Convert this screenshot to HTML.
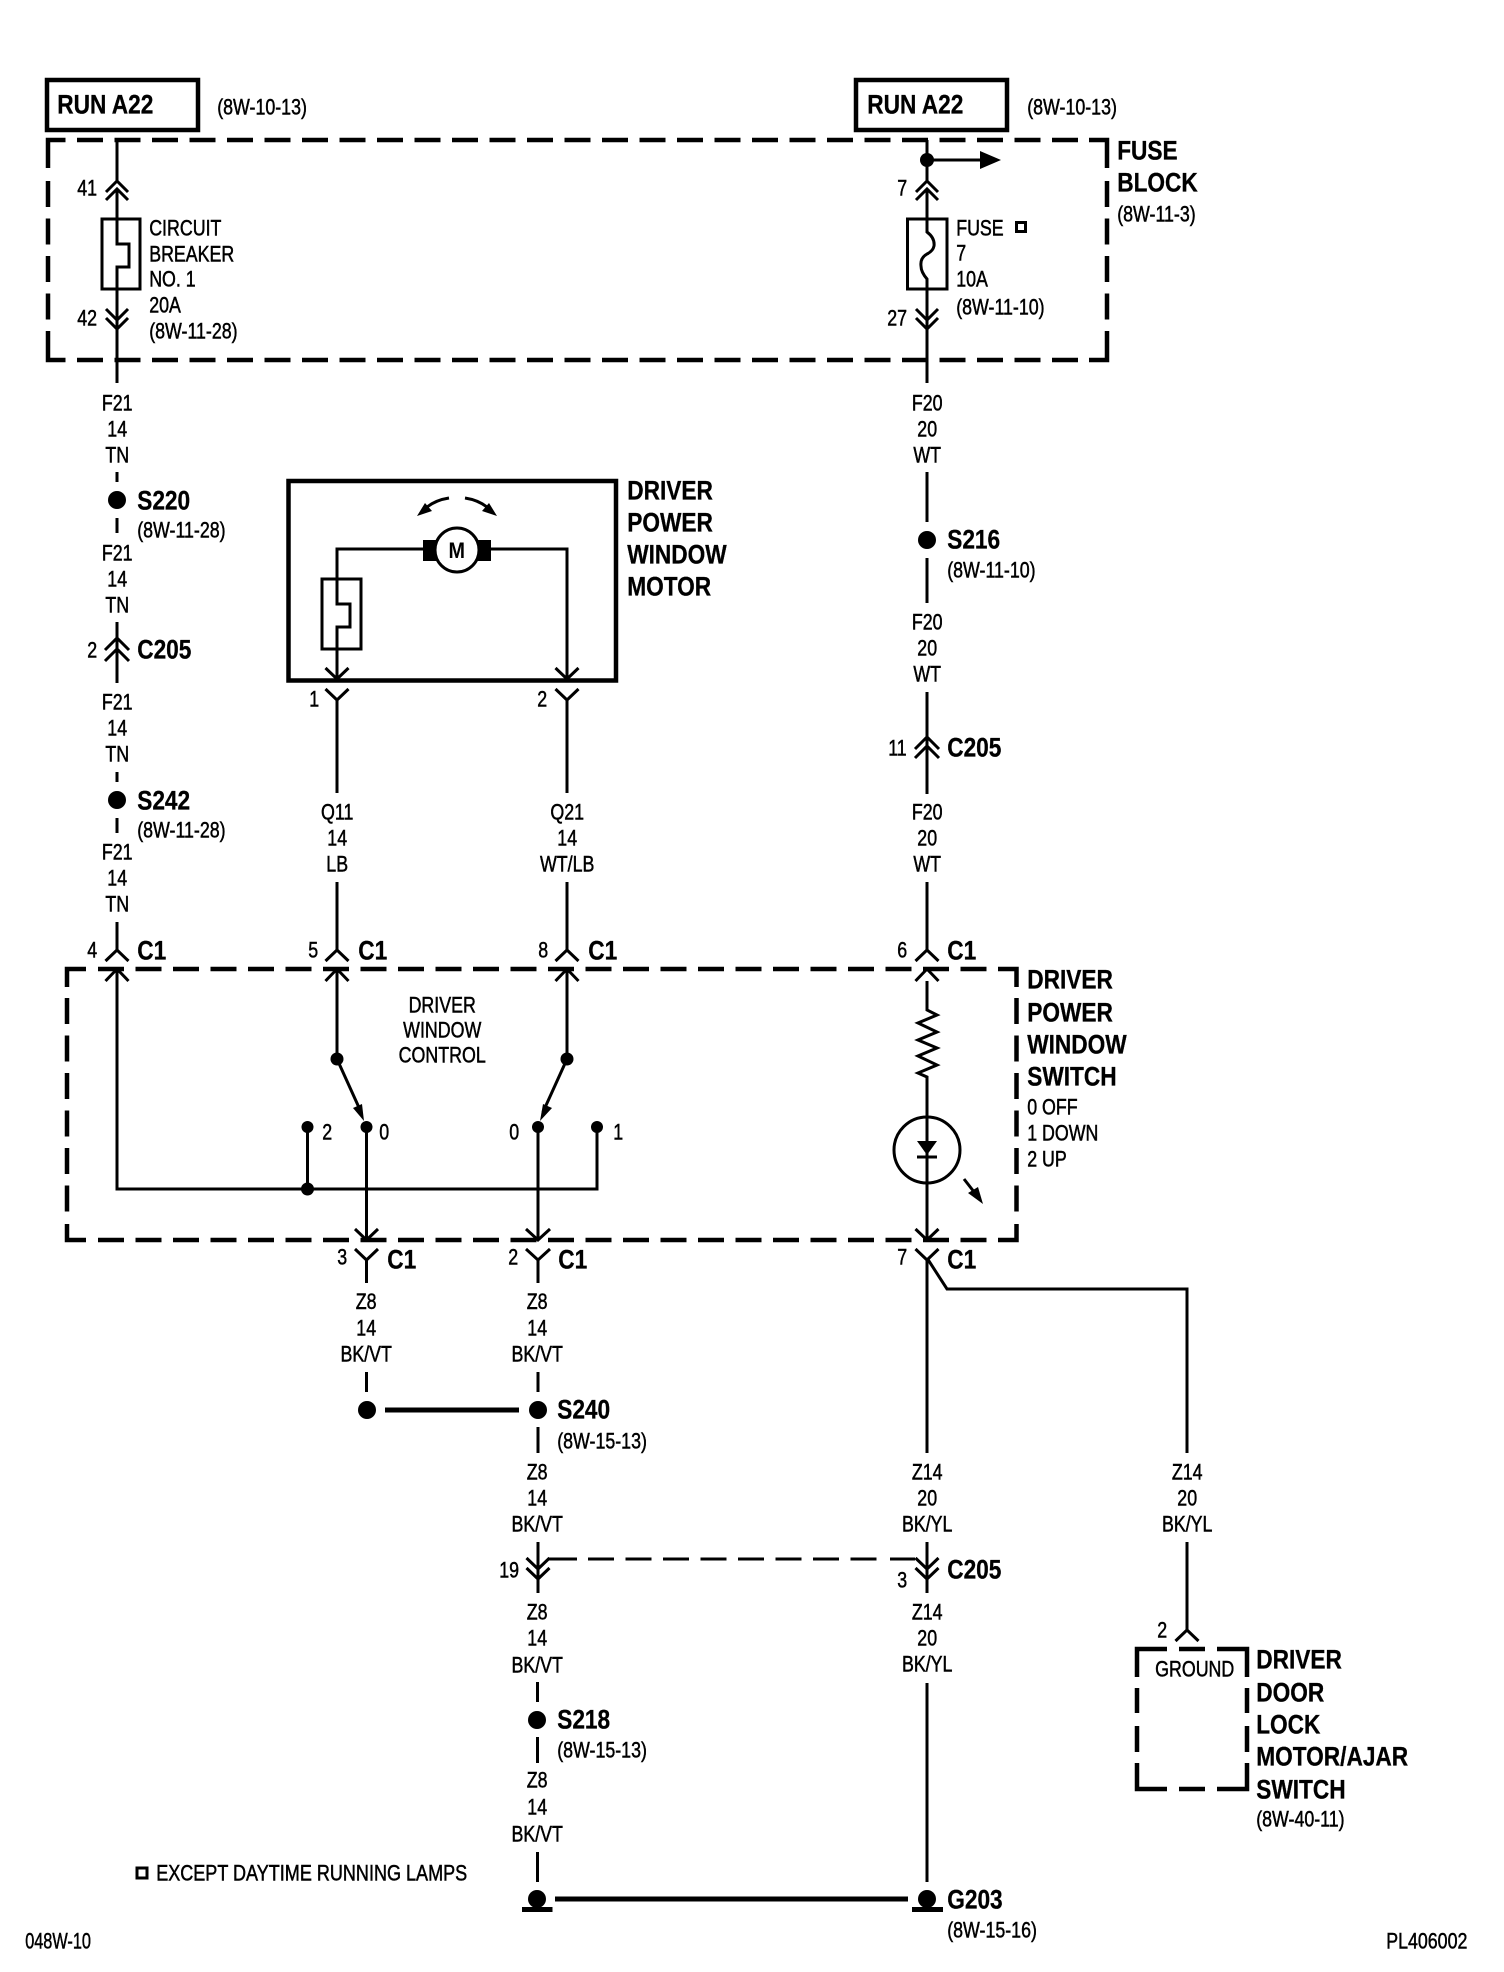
<!DOCTYPE html>
<html><head><meta charset="utf-8"><title>Wiring diagram</title>
<style>
html,body{margin:0;padding:0;background:#fff}
svg{display:block}
text{font-family:"Liberation Sans",sans-serif;fill:#000;translate:-.8px -.6px}
.s{font-size:22px;stroke:#000;stroke-width:.5}
.b{font-size:27px;font-weight:bold;stroke:#000;stroke-width:.3}
.m{text-anchor:middle}
.w{fill:none;stroke:#000;stroke-width:3}
.d{fill:none;stroke:#000;stroke-width:4.5}
</style></head><body>
<svg width="1504" height="1972" viewBox="0 0 1504 1972" xmlns="http://www.w3.org/2000/svg">
<rect width="1504" height="1972" fill="#fff"/>
<!-- top boxes -->
<rect x="47" y="80" width="151" height="50" fill="none" stroke="#000" stroke-width="4.5"/>
<rect x="856" y="80" width="151" height="50" fill="none" stroke="#000" stroke-width="4.5"/>
<text class="b" transform="translate(58 114) scale(.84 1)">RUN A22</text>
<text class="b" transform="translate(868 114) scale(.84 1)">RUN A22</text>
<text class="s" transform="translate(218 115) scale(.81 1)">(8W-10-13)</text>
<text class="s" transform="translate(1028 115) scale(.81 1)">(8W-10-13)</text>
<!-- fuse block dashed -->
<path class="d" d="M48 168V140H65.5"/>
<path class="d" d="M1089 140H1107V168"/>
<path class="d" d="M48 331V360H65.5"/>
<path class="d" d="M1089 360H1107V331"/>
<path class="d" stroke-dasharray="26 11.5" d="M77 140H1080"/>
<path class="d" stroke-dasharray="26 11.5" d="M77 360H1080"/>
<path class="d" stroke-dasharray="26 11.5" d="M48 181V322"/>
<path class="d" stroke-dasharray="26 11.5" d="M1107 181V322"/>
<!-- left fuse column -->
<path class="w" d="M117 140V181M106 192L117 181L128 192M106 200L117 189L128 200M117 189V219"/>
<rect class="w" x="102" y="219" width="38" height="70"/>
<path class="w" d="M117 219V244H129V267H117V329M106 309L117 320L128 309M106 318L117 329L128 318M117 329V383"/>
<text class="s" transform="translate(78 196) scale(.81 1)">41</text>
<text class="s" transform="translate(78 326) scale(.81 1)">42</text>
<text class="s" transform="translate(150 236) scale(.81 1)">CIRCUIT</text>
<text class="s" transform="translate(150 262) scale(.81 1)">BREAKER</text>
<text class="s" transform="translate(150 287) scale(.81 1)">NO. 1</text>
<text class="s" transform="translate(150 313) scale(.81 1)">20A</text>
<text class="s" transform="translate(150 339) scale(.81 1)">(8W-11-28)</text>
<!-- right fuse column -->
<circle cx="927" cy="160" r="7"/>
<path class="w" d="M927 140V181M927 160H982M916 192L927 181L938 192M916 200L927 189L938 200M927 189V219"/>
<path d="M980 151L1001 160L980 169Z"/>
<rect class="w" x="907.5" y="219" width="39.5" height="70"/>
<path class="w" d="M927 219V232Q935 238 934 246Q933 251 927 254Q920 258 921 266Q921 272 927 279V329M916 309L927 320L938 309M916 318L927 329L938 318M927 329V383"/>
<text class="s" transform="translate(898 196) scale(.81 1)">7</text>
<text class="s" transform="translate(888 326) scale(.81 1)">27</text>
<text class="s" transform="translate(957 236) scale(.81 1)">FUSE</text>
<rect class="w" x="1016.5" y="222.5" width="9" height="9" stroke-width="2.5"/>
<text class="s" transform="translate(957 261) scale(.81 1)">7</text>
<text class="s" transform="translate(957 287) scale(.81 1)">10A</text>
<text class="s" transform="translate(957 315) scale(.81 1)">(8W-11-10)</text>
<text class="b" transform="translate(1118 160) scale(.84 1)">FUSE</text>
<text class="b" transform="translate(1118 192) scale(.84 1)">BLOCK</text>
<text class="s" transform="translate(1118 222) scale(.81 1)">(8W-11-3)</text>
<!-- F21 column -->
<text class="s m" transform="translate(118 411) scale(.81 1)">F21</text>
<text class="s m" transform="translate(118 437) scale(.81 1)">14</text>
<text class="s m" transform="translate(118 463) scale(.81 1)">TN</text>
<path class="w" d="M117 472V482M117 518V533"/>
<circle cx="117" cy="500" r="9"/>
<text class="b" transform="translate(138 510) scale(.84 1)">S220</text>
<text class="s" transform="translate(138 538) scale(.81 1)">(8W-11-28)</text>
<text class="s m" transform="translate(118 561) scale(.81 1)">F21</text>
<text class="s m" transform="translate(118 587) scale(.81 1)">14</text>
<text class="s m" transform="translate(118 613) scale(.81 1)">TN</text>
<path class="w" d="M117 622V683M105 650L117 638L129 650M105 661L117 649L129 661"/>
<text class="s" transform="translate(88 658) scale(.81 1)">2</text>
<text class="b" transform="translate(138 659) scale(.84 1)">C205</text>
<text class="s m" transform="translate(118 710) scale(.81 1)">F21</text>
<text class="s m" transform="translate(118 736) scale(.81 1)">14</text>
<text class="s m" transform="translate(118 762) scale(.81 1)">TN</text>
<path class="w" d="M117 772V782M117 818V833"/>
<circle cx="117" cy="800" r="9"/>
<text class="b" transform="translate(138 810) scale(.84 1)">S242</text>
<text class="s" transform="translate(138 838) scale(.81 1)">(8W-11-28)</text>
<text class="s m" transform="translate(118 860) scale(.81 1)">F21</text>
<text class="s m" transform="translate(118 886) scale(.81 1)">14</text>
<text class="s m" transform="translate(118 912) scale(.81 1)">TN</text>
<!-- F20 column -->
<text class="s m" transform="translate(928 411) scale(.81 1)">F20</text>
<text class="s m" transform="translate(928 437) scale(.81 1)">20</text>
<text class="s m" transform="translate(928 463) scale(.81 1)">WT</text>
<path class="w" d="M927 472V522M927 558V603"/>
<circle cx="927" cy="540" r="9"/>
<text class="b" transform="translate(948 549) scale(.84 1)">S216</text>
<text class="s" transform="translate(948 578) scale(.81 1)">(8W-11-10)</text>
<text class="s m" transform="translate(928 630) scale(.81 1)">F20</text>
<text class="s m" transform="translate(928 656) scale(.81 1)">20</text>
<text class="s m" transform="translate(928 682) scale(.81 1)">WT</text>
<path class="w" d="M927 692V794M915 749L927 737L939 749M915 758L927 746L939 758"/>
<text class="s" transform="translate(889 756) scale(.81 1)">11</text>
<text class="b" transform="translate(948 757) scale(.84 1)">C205</text>
<text class="s m" transform="translate(928 820) scale(.81 1)">F20</text>
<text class="s m" transform="translate(928 846) scale(.81 1)">20</text>
<text class="s m" transform="translate(928 872) scale(.81 1)">WT</text>
<!-- motor -->
<rect x="288.5" y="481" width="327.5" height="199.5" fill="none" stroke="#000" stroke-width="4.5"/>
<path class="w" d="M423 549H337V679M491 549H567V679"/>
<rect x="423" y="540" width="68" height="21"/>
<circle cx="457" cy="550" r="22" fill="#fff" stroke="#000" stroke-width="3"/>
<text class="m" transform="translate(457.500 558.500) scale(.9 1)" style="font-size:22px;font-weight:bold">M</text>
<path class="w" d="M449 498Q436 500 427 507M465 498Q478 500 487 507"/>
<path d="M417 516L425 503L432 511ZM497 516L489 503L482 511Z"/>
<rect class="w" x="322" y="579" width="39" height="70"/>
<path class="w" d="M337 604H350V627H337"/>
<rect x="335" y="605.5" width="4" height="20" fill="#fff"/>
<path class="w" d="M325.5 668L337 679L348.5 668M555.5 668L567 679L578.5 668"/>
<path class="w" d="M325.5 689L337 700L348.5 689M555.5 689L567 700L578.5 689M337 700V793M567 700V793"/>
<text class="s" transform="translate(310 707) scale(.81 1)">1</text>
<text class="s" transform="translate(538 707) scale(.81 1)">2</text>
<text class="b" transform="translate(628 500) scale(.84 1)">DRIVER</text>
<text class="b" transform="translate(628 532) scale(.84 1)">POWER</text>
<text class="b" transform="translate(628 564) scale(.84 1)">WINDOW</text>
<text class="b" transform="translate(628 596) scale(.84 1)">MOTOR</text>
<text class="s m" transform="translate(338 820) scale(.81 1)">Q11</text>
<text class="s m" transform="translate(338 846) scale(.81 1)">14</text>
<text class="s m" transform="translate(338 872) scale(.81 1)">LB</text>
<text class="s m" transform="translate(568 820) scale(.81 1)">Q21</text>
<text class="s m" transform="translate(568 846) scale(.81 1)">14</text>
<text class="s m" transform="translate(568 872) scale(.81 1)">WT/LB</text>
<!-- switch connectors top -->
<path class="w" d="M117 922V950M337 882V950M567 882V950M927 882V950"/>
<path class="w" d="M105.500 961L117 950L128.500 961M325.500 961L337 950L348.500 961M555.500 961L567 950L578.500 961M915.500 961L927 950L938.500 961"/>
<path class="w" d="M105.500 981L117 969L128.500 981M325.500 981L337 969L348.500 981M555.500 981L567 969L578.500 981M915.500 981L927 969L938.500 981"/>
<text class="s" transform="translate(88 958) scale(.81 1)">4</text>
<text class="s" transform="translate(309 958) scale(.81 1)">5</text>
<text class="s" transform="translate(539 958) scale(.81 1)">8</text>
<text class="s" transform="translate(898 958) scale(.81 1)">6</text>
<text class="b" transform="translate(138 960) scale(.84 1)">C1</text>
<text class="b" transform="translate(359 960) scale(.84 1)">C1</text>
<text class="b" transform="translate(589 960) scale(.84 1)">C1</text>
<text class="b" transform="translate(948 960) scale(.84 1)">C1</text>
<!-- switch dashed box -->
<path class="d" d="M67 987V969H86"/>
<path class="d" d="M998 969H1016.500V987"/>
<path class="d" d="M67 1224V1240H86"/>
<path class="d" d="M998 1240H1016.500V1224"/>
<path class="d" stroke-dasharray="26 11.500" d="M98 969H990"/>
<path class="d" stroke-dasharray="26 11.500" d="M98 1240H990"/>
<path class="d" stroke-dasharray="26 11.500" d="M67 998V1213"/>
<path class="d" stroke-dasharray="26 11.500" d="M1016.500 998V1213"/>
<!-- switch internals -->
<path class="w" d="M117 969V1189H597V1127M307.500 1189V1127M337 969V1059L361 1112M567 969V1059L543 1112"/>
<path class="w" d="M366.500 1127V1240M538 1127V1240M355 1229L366.500 1240L378 1229M526 1229L538 1240L550 1229"/>
<circle cx="337" cy="1059" r="6.500"/><circle cx="567" cy="1059" r="6.500"/>
<circle cx="307.500" cy="1127" r="6"/><circle cx="366.500" cy="1127" r="6"/><circle cx="538" cy="1127" r="6"/><circle cx="597" cy="1127" r="6"/>
<circle cx="307.500" cy="1189" r="6.500"/>
<path d="M364 1121L353 1108L362 1104ZM540 1121L552 1108L543 1104Z"/>
<text class="s" transform="translate(323 1140) scale(.81 1)">2</text>
<text class="s" transform="translate(380 1140) scale(.81 1)">0</text>
<text class="s" transform="translate(510 1140) scale(.81 1)">0</text>
<text class="s" transform="translate(614 1140) scale(.81 1)">1</text>
<text class="s m" transform="translate(443 1013) scale(.81 1)">DRIVER</text>
<text class="s m" transform="translate(443 1038) scale(.81 1)">WINDOW</text>
<text class="s m" transform="translate(443 1063) scale(.81 1)">CONTROL</text>
<!-- resistor/LED -->
<path class="w" d="M927 981V1010L937 1015L918 1023L937 1032L918 1040L937 1048L918 1056L937 1065L918 1073L927 1077V1240"/>
<circle cx="927" cy="1150" r="33" fill="none" stroke="#000" stroke-width="3"/>
<path d="M917 1141H937L927 1155Z"/>
<path class="w" d="M917 1157H937M964 1179L978 1197M915.500 1229L927 1240L938.500 1229"/>
<path d="M983 1204L968 1193L978 1187Z"/>
<text class="b" transform="translate(1028 989) scale(.84 1)">DRIVER</text>
<text class="b" transform="translate(1028 1022) scale(.84 1)">POWER</text>
<text class="b" transform="translate(1028 1054) scale(.84 1)">WINDOW</text>
<text class="b" transform="translate(1028 1086) scale(.84 1)">SWITCH</text>
<text class="s" transform="translate(1028 1115) scale(.81 1)">0 OFF</text>
<text class="s" transform="translate(1028 1141) scale(.81 1)">1 DOWN</text>
<text class="s" transform="translate(1028 1167) scale(.81 1)">2 UP</text>
<!-- lower connectors -->
<path class="w" d="M355 1249L366.500 1260L378 1249M366.500 1260V1283M526 1249L538 1260L550 1249M538 1260V1283"/>
<path class="w" d="M915.500 1249L927 1260L938.500 1249M927 1260V1453M927 1258L947 1289H1187V1453"/>
<text class="s" transform="translate(338 1265) scale(.81 1)">3</text>
<text class="s" transform="translate(509 1265) scale(.81 1)">2</text>
<text class="s" transform="translate(898 1265) scale(.81 1)">7</text>
<text class="b" transform="translate(388 1269) scale(.84 1)">C1</text>
<text class="b" transform="translate(559 1269) scale(.84 1)">C1</text>
<text class="b" transform="translate(948 1269) scale(.84 1)">C1</text>
<text class="s m" transform="translate(367 1309.500) scale(.81 1)">Z8</text>
<text class="s m" transform="translate(367 1336) scale(.81 1)">14</text>
<text class="s m" transform="translate(367 1362) scale(.81 1)">BK/VT</text>
<text class="s m" transform="translate(538 1309.500) scale(.81 1)">Z8</text>
<text class="s m" transform="translate(538 1336) scale(.81 1)">14</text>
<text class="s m" transform="translate(538 1362) scale(.81 1)">BK/VT</text>
<path class="w" d="M366.500 1372V1392M538 1372V1392M538 1427V1453"/>
<circle cx="367" cy="1410" r="9"/><circle cx="538" cy="1410" r="9"/>
<path d="M385 1410H519" fill="none" stroke="#000" stroke-width="5"/>
<text class="b" transform="translate(558 1419) scale(.84 1)">S240</text>
<text class="s" transform="translate(558 1449) scale(.81 1)">(8W-15-13)</text>
<text class="s m" transform="translate(538 1480) scale(.81 1)">Z8</text>
<text class="s m" transform="translate(538 1506) scale(.81 1)">14</text>
<text class="s m" transform="translate(538 1532) scale(.81 1)">BK/VT</text>
<text class="s m" transform="translate(928 1480) scale(.81 1)">Z14</text>
<text class="s m" transform="translate(928 1506) scale(.81 1)">20</text>
<text class="s m" transform="translate(928 1532) scale(.81 1)">BK/YL</text>
<text class="s m" transform="translate(1188 1480) scale(.81 1)">Z14</text>
<text class="s m" transform="translate(1188 1506) scale(.81 1)">20</text>
<text class="s m" transform="translate(1188 1532) scale(.81 1)">BK/YL</text>
<!-- C205 lower -->
<path class="w" d="M538 1542V1593M526.500 1558L538 1569L549.500 1558M526.500 1568L538 1579L549.500 1568"/>
<path class="w" d="M927 1542V1593M915.500 1558L927 1569L938.500 1558M915.500 1568L927 1579L938.500 1568"/>
<path class="w" d="M548 1559H577M915 1559H890"/>
<path class="w" stroke-dasharray="26 11.500" d="M588 1559H880"/>
<text class="s" transform="translate(500 1578) scale(.81 1)">19</text>
<text class="s" transform="translate(898 1588) scale(.81 1)">3</text>
<text class="b" transform="translate(948 1579) scale(.84 1)">C205</text>
<text class="s m" transform="translate(538 1620) scale(.81 1)">Z8</text>
<text class="s m" transform="translate(538 1646) scale(.81 1)">14</text>
<text class="s m" transform="translate(538 1673) scale(.81 1)">BK/VT</text>
<text class="s m" transform="translate(928 1620) scale(.81 1)">Z14</text>
<text class="s m" transform="translate(928 1646) scale(.81 1)">20</text>
<text class="s m" transform="translate(928 1672) scale(.81 1)">BK/YL</text>
<path class="w" d="M537.500 1682V1702M537.500 1737V1763M537.500 1852V1882M927 1683V1882"/>
<circle cx="537" cy="1720" r="9"/>
<text class="b" transform="translate(558 1729) scale(.84 1)">S218</text>
<text class="s" transform="translate(558 1758) scale(.81 1)">(8W-15-13)</text>
<text class="s m" transform="translate(538 1788) scale(.81 1)">Z8</text>
<text class="s m" transform="translate(538 1815) scale(.81 1)">14</text>
<text class="s m" transform="translate(538 1842) scale(.81 1)">BK/VT</text>
<!-- grounds -->
<circle cx="537" cy="1899" r="9"/><circle cx="927" cy="1899" r="9"/>
<rect x="522" y="1907" width="30.500" height="5"/><rect x="912" y="1907" width="31" height="5"/>
<path d="M555 1899H908" fill="none" stroke="#000" stroke-width="5"/>
<text class="b" transform="translate(948 1909) scale(.84 1)">G203</text>
<text class="s" transform="translate(948 1938) scale(.81 1)">(8W-15-16)</text>
<!-- door lock -->
<path class="w" d="M1187 1542V1630M1175.500 1641L1187 1630L1198.500 1641"/>
<text class="s" transform="translate(1158 1638) scale(.81 1)">2</text>
<path class="d" d="M1137 1677V1649H1167M1179 1649H1205M1217 1649H1247V1677M1137 1688V1713M1137 1726V1752M1247 1688V1713M1247 1726V1752M1137 1763V1789H1167M1179 1789H1205M1217 1789H1247V1763"/>
<text class="s m" transform="translate(1195.500 1677) scale(.81 1)">GROUND</text>
<text class="b" transform="translate(1257 1669) scale(.84 1)">DRIVER</text>
<text class="b" transform="translate(1257 1702) scale(.84 1)">DOOR</text>
<text class="b" transform="translate(1257 1734) scale(.84 1)">LOCK</text>
<text class="b" transform="translate(1257 1766) scale(.84 1)">MOTOR/AJAR</text>
<text class="b" transform="translate(1257 1799) scale(.84 1)">SWITCH</text>
<text class="s" transform="translate(1257 1827) scale(.81 1)">(8W-40-11)</text>
<!-- footer -->
<rect class="w" x="137" y="1868" width="10" height="10" stroke-width="2.5"/>
<text class="s" transform="translate(157 1881) scale(.82 1)">EXCEPT DAYTIME RUNNING LAMPS</text>
<text class="s" transform="translate(26 1949) scale(.74 1)">048W-10</text>
<text class="s" transform="translate(1387 1949) scale(.81 1)">PL406002</text>
</svg>
</body></html>
